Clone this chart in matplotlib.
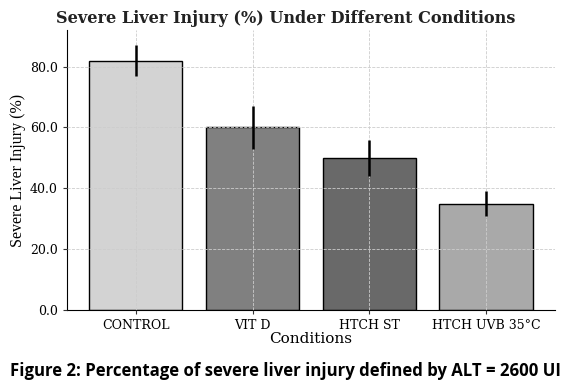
import matplotlib.pyplot as plt

conditions = ["CONTROL", "VIT D", "HTCH ST", "HTCH UVB 35°C"]
injury = [82, 60, 50, 35]
errors = [5, 7, 6, 4]
colours = ["lightgray", "gray", "dimgray", "darkgray"]

fig = plt.figure(figsize=(5.71, 3.91), dpi=100)
ax = fig.add_axes([0.117, 0.207, 0.855, 0.716])

ax.bar(conditions, injury, yerr=errors, color=colours, edgecolor="black",
       linewidth=1.0, width=0.8,
       error_kw=dict(elinewidth=1.8, ecolor="black", capsize=0, zorder=3))
ax.grid(True, linestyle="--", color="#cccccc", linewidth=0.6)
ax.set_axisbelow(False)
ax.spines["top"].set_visible(False)
ax.spines["right"].set_visible(False)

ax.set_ylim(0, 92)
ax.set_yticks([0, 20, 40, 60, 80])
ax.set_yticklabels([f"{v:.1f}" for v in [0, 20, 40, 60, 80]])
for lab in ax.get_xticklabels() + ax.get_yticklabels():
    lab.set_family("DejaVu Serif")
    lab.set_fontsize(9)
ax.tick_params(length=3, color="#333333")

fig.text(0.5, 0.953, "Severe Liver Injury (%) Under Different Conditions", family="DejaVu Serif",
         fontweight="bold", fontsize=11.6, color="#222222", ha="center", va="center")
ax.set_xlabel("Conditions", family="DejaVu Serif", fontsize=11, labelpad=0)
ax.set_ylabel("Severe Liver Injury (%)", family="Liberation Serif", fontsize=11.5, labelpad=3)

fig.text(0.5, 0.05, "Figure 2: Percentage of severe liver injury defined by ALT = 2600 UI",
         ha="center", va="center", family="Open Sans", fontweight="bold", fontsize=12.1)

fig.savefig("out.png", dpi=100)
